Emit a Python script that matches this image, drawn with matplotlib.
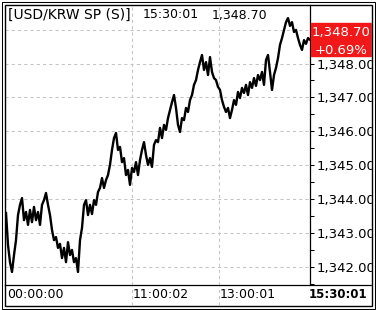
import matplotlib
matplotlib.use("Agg")
import matplotlib.pyplot as plt
import matplotlib.transforms as mtransforms
from matplotlib.patches import Rectangle
from matplotlib.ticker import FixedLocator, FuncFormatter
import numpy as np

# USD/KRW spot, one value every couple of ticks through the session
price = [
    1343.59, 1342.65, 1342.14, 1341.85, 1342.35, 1342.79, 1343.53, 1343.83, 1344.03, 1343.38,
    1343.62, 1343.24, 1343.68, 1343.32, 1343.77, 1343.38, 1343.62, 1343.24, 1343.83, 1343.97,
    1344.18, 1343.83, 1343.53, 1343.09, 1342.79, 1342.88, 1342.56, 1342.68, 1342.26, 1342.56,
    1342.14, 1342.73, 1342.35, 1342.50, 1342.14, 1342.26, 1341.85, 1342.79, 1343.15, 1343.83,
    1343.97, 1343.53, 1343.83, 1343.56, 1343.97, 1343.83, 1344.21, 1344.33, 1344.62, 1344.33,
    1344.56, 1344.71, 1345.01, 1345.45, 1345.80, 1345.95, 1345.45, 1345.54, 1345.09, 1345.21,
    1344.71, 1344.86, 1344.42, 1344.92, 1344.80, 1345.09, 1344.71, 1345.15, 1345.45, 1345.68,
    1345.30, 1345.01, 1345.21, 1344.95, 1345.60, 1345.74, 1345.68, 1346.10, 1345.80, 1346.19,
    1346.04, 1346.39, 1346.63, 1346.86, 1347.07, 1346.69, 1346.19, 1345.98, 1346.39, 1346.33,
    1346.69, 1346.57, 1346.92, 1347.07, 1347.37, 1347.51, 1347.81, 1348.04, 1348.25, 1347.81,
    1348.04, 1347.66, 1348.19, 1347.75, 1347.57, 1347.51, 1347.31, 1347.22, 1346.92, 1346.72,
    1346.57, 1346.69, 1346.39, 1346.63, 1346.92, 1346.78, 1347.16, 1346.98, 1347.28, 1347.13,
    1347.37, 1347.07, 1347.45, 1347.28, 1347.57, 1347.34, 1347.66, 1347.51, 1347.75, 1347.37,
    1348.10, 1348.25, 1347.75, 1347.22, 1347.66, 1347.87, 1348.16, 1348.55, 1348.75, 1348.99,
    1349.22, 1349.34, 1349.11, 1349.22, 1348.93, 1348.99, 1348.75, 1348.55, 1348.40, 1348.69,
    1348.58, 1348.75, 1348.70,
]
time_pos = [0, 63, 106.5]
time_labels = ["00:00:00", "11:00:02", "13:00:01"]
last_time = "15:30:01"
price_ticks = [1342, 1343, 1344, 1345, 1346, 1347, 1348, 1349]
change = "+0.69%"
symbol = "[USD/KRW SP (S)]"

W, H = 376, 310
PX = 33.9  # pixels per 1 won on the price scale
GRID = dict(color="#c4c4c4", ls=(0, (3, 3)), lw=0.75)


def fx(px):
    return px / W


def fy(py):
    return 1 - py / H


plt.rcParams["font.family"] = "DejaVu Sans"
fig = plt.figure(figsize=(W / 100, H / 100), dpi=100)

# price panel
ax = fig.add_axes([fx(5), fy(285), (310 - 5) / W, (285 - 5) / H])
x = np.arange(len(price))
ax.plot(x, price, color="black", lw=1.7, zorder=3)
ax.set_xlim(-0.5, len(price) - 1)
ax.set_ylim(1348 - (285 - 63.5) / PX, 1348 + (63.5 - 5) / PX)

last = price[-1]
# grid on every level, ticks/labels only where the last price box does not cover them
for t in price_ticks:
    ax.axhline(t, zorder=1, **GRID)
visible = [t for t in price_ticks if t < last - 0.5]
ax.set_yticks(visible)
ax.yaxis.set_minor_locator(FixedLocator([t + 0.5 for t in visible[:-1]] + [visible[0] - 0.5]))
ax.yaxis.set_major_formatter(FuncFormatter(lambda v, p: f"{v:,.2f}"))
ax.yaxis.tick_right()
ax.tick_params(axis="y", which="both", direction="out", length=3, width=0.75,
               pad=1.5, labelsize=9.5, colors="black")
for p in time_pos[1:]:
    ax.axvline(p, zorder=1, **GRID)
ax.set_xticks([])
for s in ["left", "top", "bottom"]:
    ax.spines[s].set_visible(False)
ax.spines["right"].set_linewidth(0.9)

# last price box on the right scale
trans = mtransforms.blended_transform_factory(ax.transAxes, ax.transData)
box_h = 33 / PX
ax.add_patch(Rectangle((1 + 1 / 305, last - box_h / 2), 60 / 305, box_h,
                       transform=trans, color="#f01818", clip_on=False, zorder=5))
ax.text(1 + 31 / 305, last + 7.5 / PX, f"{last:,.2f}", transform=trans, ha="center",
        va="center", color="white", fontsize=9.5, clip_on=False, zorder=6)
ax.text(1 + 31 / 305, last - 10.5 / PX, change, transform=trans, ha="center",
        va="center", color="white", fontsize=9.5, clip_on=False, zorder=6)

# header text
fig.text(fx(8), fy(15), symbol, ha="left", va="center", fontsize=10)
fig.text(fx(143), fy(15), last_time, ha="left", va="center", fontsize=9)
fig.text(fx(212), fy(15), f"{last:,.2f}", ha="left", va="center", fontsize=9)

# time axis strip
ax_t = fig.add_axes([fx(5), fy(305), (371 - 5) / W, 20 / H])
ax_t.set_xlim(-0.5, -0.5 + (371 - 5) / 2)
ax_t.set_ylim(0, 1)
ax_t.set_xticks([])
ax_t.set_yticks([])
for s in ["left", "right", "bottom"]:
    ax_t.spines[s].set_visible(False)
ax_t.spines["top"].set_linewidth(0.9)
for p, lbl in zip(time_pos, time_labels):
    if p > 0:
        ax_t.axvline(p, **GRID)
    ax_t.text(p + 0.4, 0.5, lbl, ha="left", va="center", fontsize=9)
ax_t.text(-0.5 + (367 - 5) / 2, 0.5, last_time, ha="right", va="center",
          fontsize=8.5, fontweight="bold")

# outer frames
ov = fig.add_axes([0, 0, 1, 1], zorder=10)
ov.set_xlim(0, W)
ov.set_ylim(H, 0)
ov.axis("off")
ov.patch.set_visible(False)
ov.add_patch(Rectangle((371.5, 0), 5, H, color="white"))
ov.add_patch(Rectangle((1.5, 1.5), 373, 307, fill=False, lw=0.75, ec="black"))
ov.add_patch(Rectangle((5, 5), 366.5, 300.5, fill=False, lw=1.0, ec="black"))

fig.savefig("out.png", dpi=100)
